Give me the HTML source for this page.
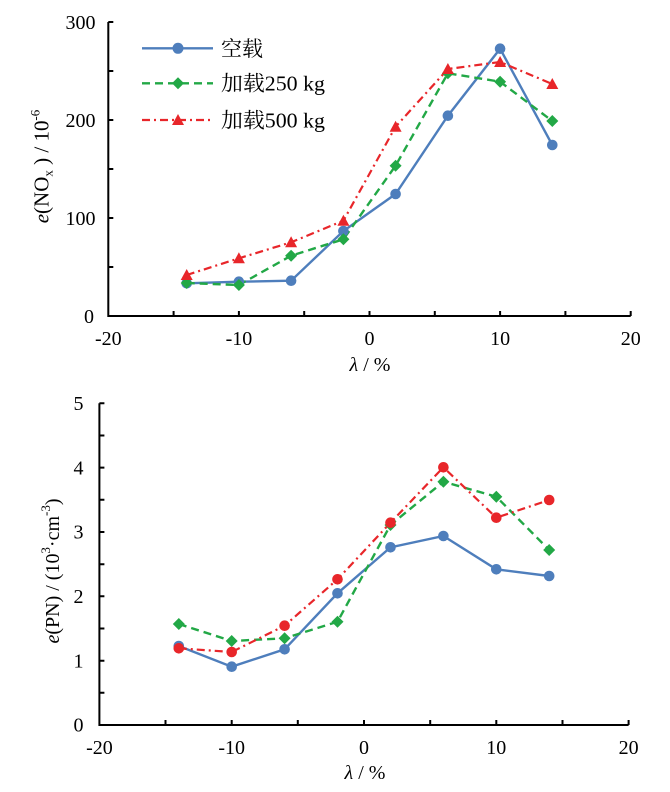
<!DOCTYPE html>
<html><head><meta charset="utf-8"><style>
html,body{margin:0;padding:0;background:#fff;}
svg{display:block;}
text{font-family:"Liberation Serif","Noto Serif CJK SC",serif;fill:#000;}
</style></head><body>
<svg width="670" height="792" viewBox="0 0 670 792" xmlns="http://www.w3.org/2000/svg">
<rect width="670" height="792" fill="#fff"/>

<!-- ===== TOP CHART ===== -->
<g stroke="#000" stroke-width="2" fill="none">
  <path d="M108.3,22 V316 H630.7"/>
  <path d="M108.3,22 h5 M108.3,71 h5 M108.3,120 h5 M108.3,169 h5 M108.3,218 h5 M108.3,267 h5"/>
  <path d="M173.6,316 v-5 M238.9,316 v-5 M304.2,316 v-5 M369.5,316 v-5 M434.8,316 v-5 M500.1,316 v-5 M565.4,316 v-5 M630.7,316 v-5"/>
</g>
<g font-size="20" text-anchor="end">
  <text x="95.5" y="29">300</text>
  <text x="95.5" y="127">200</text>
  <text x="95.5" y="225">100</text>
  <text x="94" y="323">0</text>
</g>
<g font-size="20" text-anchor="middle">
  <text x="108.3" y="345">-20</text>
  <text x="238.9" y="345">-10</text>
  <text x="369.5" y="345">0</text>
  <text x="500.1" y="345">10</text>
  <text x="630.7" y="345">20</text>
</g>
<text x="370" y="371" font-size="20" text-anchor="middle"><tspan font-style="italic">λ</tspan> / %</text>
<text transform="translate(48.5,166.5) rotate(-90)" font-size="21" text-anchor="middle"><tspan font-style="italic">e</tspan>(NO<tspan font-size="13" dy="4">x</tspan><tspan dy="-4"> ) / 10</tspan><tspan font-size="13" dy="-9">-6</tspan></text>

<!-- series top -->
<polyline fill="none" stroke="#4e7ebc" stroke-width="2.4" points="186.7,283.3 238.9,281.7 291.1,280.7 343.4,231 395.6,194 447.9,115.7 500.1,48.7 552.3,145"/>
<polyline fill="none" stroke="#22a846" stroke-width="2.4" stroke-dasharray="8,5" points="186.7,283 238.9,285 291.1,255.7 343.4,239.3 395.6,165.7 447.9,73.3 500.1,81.7 552.3,121"/>
<polyline fill="none" stroke="#e8262a" stroke-width="2.2" stroke-dasharray="8,4,2,4" points="186.7,275 238.9,258.3 291.1,242.3 343.4,220.7 395.6,126.7 447.9,69 500.1,62 552.3,84"/>
<g fill="#4e7ebc">
  <circle cx="186.7" cy="283.3" r="5.3"/><circle cx="238.9" cy="281.7" r="5.3"/><circle cx="291.1" cy="280.7" r="5.3"/><circle cx="343.4" cy="231" r="5.3"/>
  <circle cx="395.6" cy="194" r="5.3"/><circle cx="447.9" cy="115.7" r="5.3"/><circle cx="500.1" cy="48.7" r="5.3"/><circle cx="552.3" cy="145" r="5.3"/>
</g>
<g fill="#22a846">
  <polygon points="186.7,277 192.7,283 186.7,289 180.7,283"/>
  <polygon points="238.9,279 244.9,285 238.9,291 232.9,285"/>
  <polygon points="291.1,249.7 297.1,255.7 291.1,261.7 285.1,255.7"/>
  <polygon points="343.4,233.3 349.4,239.3 343.4,245.3 337.4,239.3"/>
  <polygon points="395.6,159.7 401.6,165.7 395.6,171.7 389.6,165.7"/>
  <polygon points="447.9,67.3 453.9,73.3 447.9,79.3 441.9,73.3"/>
  <polygon points="500.1,75.7 506.1,81.7 500.1,87.7 494.1,81.7"/>
  <polygon points="552.3,115 558.3,121 552.3,127 546.3,121"/>
</g>
<g fill="#e8262a">
  <polygon points="186.7,269 192.7,280 180.7,280"/>
  <polygon points="238.9,252.3 244.9,263.3 232.9,263.3"/>
  <polygon points="291.1,236.3 297.1,247.3 285.1,247.3"/>
  <polygon points="343.4,214.7 349.4,225.7 337.4,225.7"/>
  <polygon points="395.6,120.7 401.6,131.7 389.6,131.7"/>
  <polygon points="447.9,63 453.9,74 441.9,74"/>
  <polygon points="500.1,56 506.1,67 494.1,67"/>
  <polygon points="552.3,78 558.3,89 546.3,89"/>
</g>

<!-- legend -->
<line x1="142" y1="48.3" x2="213" y2="48.3" stroke="#4e7ebc" stroke-width="2.4"/>
<circle cx="178" cy="48.3" r="5.5" fill="#4e7ebc"/>
<line x1="142" y1="83.3" x2="213" y2="83.3" stroke="#22a846" stroke-width="2.4" stroke-dasharray="8,5"/>
<polygon points="178,77.3 184,83.3 178,89.3 172,83.3" fill="#22a846"/>
<line x1="142" y1="120" x2="213" y2="120" stroke="#e8262a" stroke-width="2.2" stroke-dasharray="8,4,2,4"/>
<polygon points="178,114 184,125 172,125" fill="#e8262a"/>
<text x="221" y="56" font-size="21">空载</text>
<text x="221" y="90.7" font-size="21" textLength="104" lengthAdjust="spacingAndGlyphs">加载250 kg</text>
<text x="221" y="127.7" font-size="21" textLength="104" lengthAdjust="spacingAndGlyphs">加载500 kg</text>

<!-- ===== BOTTOM CHART ===== -->
<g stroke="#000" stroke-width="2" fill="none">
  <path d="M99.4,403.3 V725 H628.6"/>
  <path d="M99.4,403.3 h5 M99.4,435.5 h5 M99.4,467.6 h5 M99.4,499.8 h5 M99.4,532 h5 M99.4,564.2 h5 M99.4,596.3 h5 M99.4,628.5 h5 M99.4,660.7 h5 M99.4,692.8 h5"/>
  <path d="M165.5,725 v-5 M231.7,725 v-5 M297.8,725 v-5 M364,725 v-5 M430.2,725 v-5 M496.3,725 v-5 M562.5,725 v-5 M628.6,725 v-5"/>
</g>
<g font-size="20" text-anchor="end">
  <text x="83.5" y="410">5</text>
  <text x="83.5" y="474.3">4</text>
  <text x="83.5" y="538.7">3</text>
  <text x="83.5" y="603">2</text>
  <text x="83.5" y="667.4">1</text>
  <text x="83.5" y="731.7">0</text>
</g>
<g font-size="20" text-anchor="middle">
  <text x="99.4" y="754">-20</text>
  <text x="231.7" y="754">-10</text>
  <text x="364" y="754">0</text>
  <text x="496.3" y="754">10</text>
  <text x="628.6" y="754">20</text>
</g>
<text x="365" y="779" font-size="20" text-anchor="middle"><tspan font-style="italic">λ</tspan> / %</text>
<text transform="translate(59,571) rotate(-90)" font-size="20" text-anchor="middle"><tspan font-style="italic">e</tspan>(PN) / (10<tspan font-size="13" dy="-9">3</tspan><tspan dy="9">·cm</tspan><tspan font-size="13" dy="-9">-3</tspan><tspan dy="9">)</tspan></text>

<!-- series bottom -->
<polyline fill="none" stroke="#4e7ebc" stroke-width="2.4" points="178.8,646 231.7,666.7 284.6,649.3 337.5,593.3 390.5,547.3 443.4,536 496.3,569.3 549.2,576"/>
<polyline fill="none" stroke="#22a846" stroke-width="2.4" stroke-dasharray="8,5" points="178.8,624 231.7,641 284.6,638.3 337.5,621.7 390.5,525 443.4,481.7 496.3,496.7 549.2,550"/>
<polyline fill="none" stroke="#e8262a" stroke-width="2.2" stroke-dasharray="8,4,2,4" points="178.8,648.3 231.7,652 284.6,625.7 337.5,579.3 390.5,522.7 443.4,467.3 496.3,517.7 549.2,500"/>
<g fill="#4e7ebc">
  <circle cx="178.8" cy="646" r="5.3"/><circle cx="231.7" cy="666.7" r="5.3"/><circle cx="284.6" cy="649.3" r="5.3"/><circle cx="337.5" cy="593.3" r="5.3"/>
  <circle cx="390.5" cy="547.3" r="5.3"/><circle cx="443.4" cy="536" r="5.3"/><circle cx="496.3" cy="569.3" r="5.3"/><circle cx="549.2" cy="576" r="5.3"/>
</g>
<g fill="#22a846">
  <polygon points="178.8,618 184.8,624 178.8,630 172.8,624"/>
  <polygon points="231.7,635 237.7,641 231.7,647 225.7,641"/>
  <polygon points="284.6,632.3 290.6,638.3 284.6,644.3 278.6,638.3"/>
  <polygon points="337.5,615.7 343.5,621.7 337.5,627.7 331.5,621.7"/>
  <polygon points="390.5,519 396.5,525 390.5,531 384.5,525"/>
  <polygon points="443.4,475.7 449.4,481.7 443.4,487.7 437.4,481.7"/>
  <polygon points="496.3,490.7 502.3,496.7 496.3,502.7 490.3,496.7"/>
  <polygon points="549.2,544 555.2,550 549.2,556 543.2,550"/>
</g>
<g fill="#e8262a">
  <circle cx="178.8" cy="648.3" r="5.3"/><circle cx="231.7" cy="652" r="5.3"/><circle cx="284.6" cy="625.7" r="5.3"/><circle cx="337.5" cy="579.3" r="5.3"/>
  <circle cx="390.5" cy="522.7" r="5.3"/><circle cx="443.4" cy="467.3" r="5.3"/><circle cx="496.3" cy="517.7" r="5.3"/><circle cx="549.2" cy="500" r="5.3"/>
</g>
</svg>
</body></html>
